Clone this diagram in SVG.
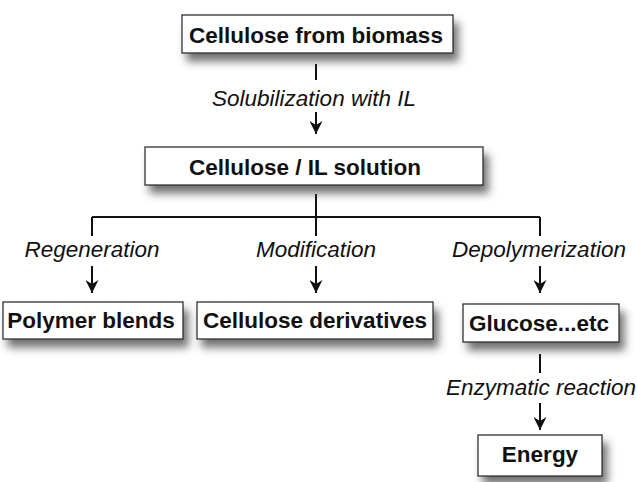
<svg xmlns="http://www.w3.org/2000/svg" width="637" height="482" viewBox="0 0 637 482">
<style>
.box{fill:#fff;stroke:#222;stroke-width:1.2;filter:url(#sh)}
.t{font-family:"Liberation Sans",Arial,sans-serif;font-weight:bold;font-size:22.5px;fill:#111;text-anchor:middle}
.l{font-family:"Liberation Sans",Arial,sans-serif;font-style:italic;font-size:22.5px;fill:#111;text-anchor:middle}
.c{stroke:#111;stroke-width:2;fill:none}
</style>
<defs>
<filter id="sh" x="-20%" y="-30%" width="150%" height="200%">
<feDropShadow dx="5" dy="8" stdDeviation="4" flood-color="#444" flood-opacity="0.75"/>
</filter>
<marker id="ah" viewBox="0 0 10 10" refX="10" refY="5" markerWidth="6.5" markerHeight="6.5" orient="auto" markerUnits="strokeWidth">
<path d="M0,0 L10,5 L0,10 L3,5 Z" fill="#111"/>
</marker>
</defs>
<g id="connectors">
<line class="c" x1="316" y1="64" x2="316" y2="80"/>
<line class="c" x1="316" y1="112" x2="316" y2="134" marker-end="url(#ah)"/>
<line class="c" x1="316" y1="194" x2="316" y2="217"/>
<line class="c" x1="92" y1="217" x2="540" y2="217"/>
<line class="c" x1="92" y1="217" x2="92" y2="236"/>
<line class="c" x1="316" y1="217" x2="316" y2="236"/>
<line class="c" x1="540" y1="217" x2="540" y2="236"/>
<line class="c" x1="92" y1="266" x2="92" y2="293" marker-end="url(#ah)"/>
<line class="c" x1="316" y1="266" x2="316" y2="293" marker-end="url(#ah)"/>
<line class="c" x1="540" y1="266" x2="540" y2="293" marker-end="url(#ah)"/>
<line class="c" x1="540" y1="354" x2="540" y2="373"/>
<line class="c" x1="540" y1="403" x2="540" y2="430" marker-end="url(#ah)"/>
</g>
<g id="labels">
<text class="l" x="314" y="106">Solubilization with IL</text>
<text class="l" x="92" y="257">Regeneration</text>
<text class="l" x="316" y="257">Modification</text>
<text class="l" x="539" y="257">Depolymerization</text>
<text class="l" x="541" y="395">Enzymatic reaction</text>
</g>
<g id="n1"><rect class="box" x="182" y="15" width="271" height="38"/><text class="t" x="316" y="43">Cellulose from biomass</text></g>
<g id="n2"><rect class="box" x="145" y="147" width="338" height="38"/><text class="t" x="305" y="175">Cellulose / IL solution</text></g>
<g id="n3"><rect class="box" x="3" y="302" width="180" height="37"/><text class="t" x="91" y="328">Polymer blends</text></g>
<g id="n4"><rect class="box" x="197" y="302" width="236" height="37"/><text class="t" x="315" y="328">Cellulose derivatives</text></g>
<g id="n5"><rect class="box" x="463" y="304" width="156" height="38"/><text class="t" x="539" y="331">Glucose...etc</text></g>
<g id="n6"><rect class="box" x="478" y="435" width="124" height="41"/><text class="t" x="540" y="462">Energy</text></g>
</svg>
